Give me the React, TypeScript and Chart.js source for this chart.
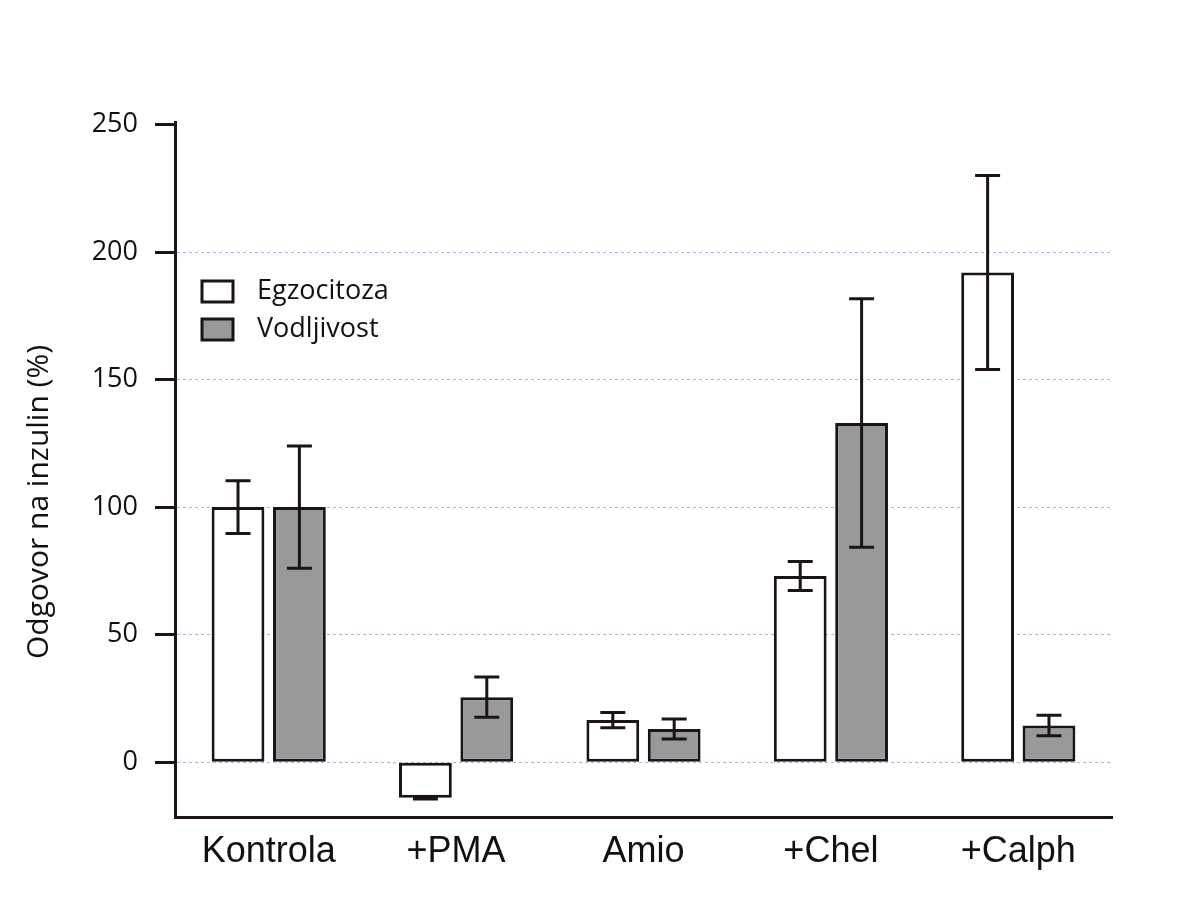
import React, { useEffect, useRef } from "react";
import { Chart, registerables } from "chart.js";

Chart.register(...registerables);

const categories = ["Kontrola", "+PMA", "Amio", "+Chel", "+Calph"];
const seriesLabels = ["Egzocitoza", "Vodljivost"];
const egzocitoza = [100, -14, 16.5, 73, 192];
const egzocitozaErr = [10.3, 0.4, 3, 5.7, 38];
const vodljivost = [100, 25.5, 13, 133, 14.4];
const vodljivostErr = [24, 7.9, 3.9, 48.7, 4];
const yTicks = [0, 50, 100, 150, 200, 250];
const yTitle = "Odgovor na inzulin (%)";

const INK = "#1c1414";
const GRAY = "#999999";
const GRID = "rgba(150,150,225,0.75)";

const errorBarsPlugin = {
  id: "errorBars",
  afterDatasetsDraw(chart: any) {
    const { ctx } = chart;
    const y = chart.scales.y;
    chart.data.datasets.forEach((ds: any, i: number) => {
      const meta = chart.getDatasetMeta(i);
      meta.data.forEach((bar: any, j: number) => {
        const v = ds.data[j];
        const e = ds.errors[j];
        const yHi = y.getPixelForValue(v + e);
        const yLo = y.getPixelForValue(v - e);
        const half = 12.5;
        ctx.save();
        ctx.strokeStyle = INK;
        ctx.lineWidth = 3;
        ctx.beginPath();
        ctx.moveTo(bar.x, yHi);
        ctx.lineTo(bar.x, yLo);
        ctx.moveTo(bar.x - half, yHi);
        ctx.lineTo(bar.x + half, yHi);
        ctx.moveTo(bar.x - half, yLo);
        ctx.lineTo(bar.x + half, yLo);
        ctx.stroke();
        ctx.restore();
      });
    });
  },
};

const legendPlugin = {
  id: "innerLegend",
  afterDraw(chart: any) {
    const { ctx } = chart;
    chart.data.datasets.forEach((ds: any, i: number) => {
      const bx = 202;
      const by = 281 + i * 38;
      ctx.save();
      ctx.fillStyle = ds.backgroundColor;
      ctx.strokeStyle = INK;
      ctx.lineWidth = 3;
      ctx.fillRect(bx, by, 31, 21);
      ctx.strokeRect(bx, by, 31, 21);
      ctx.fillStyle = "#111";
      ctx.font = "27px 'Open Sans'";
      ctx.textBaseline = "middle";
      ctx.textAlign = "left";
      ctx.fillText(ds.label, 257, by + 10);
      ctx.restore();
    });
  },
};

const yTitlePlugin = {
  id: "yTitleCustom",
  afterDraw(chart: any) {
    const { ctx } = chart;
    ctx.save();
    ctx.translate(39, 502);
    ctx.rotate(-Math.PI / 2);
    ctx.fillStyle = "#111";
    ctx.font = "30px 'Open Sans'";
    ctx.textAlign = "center";
    ctx.textBaseline = "middle";
    ctx.fillText(yTitle, 0, 0);
    ctx.restore();
  },
};

export default function App() {
  const ref = useRef<HTMLCanvasElement | null>(null);
  useEffect(() => {
    if (!ref.current) return;
    const chart = new Chart(ref.current, {
      type: "bar",
      data: {
        labels: categories,
        datasets: [
          {
            label: seriesLabels[0],
            data: egzocitoza,
            errors: egzocitozaErr,
            backgroundColor: "#ffffff",
            borderColor: INK,
            borderWidth: 3,
            borderSkipped: false,
          } as any,
          {
            label: seriesLabels[1],
            data: vodljivost,
            errors: vodljivostErr,
            backgroundColor: GRAY,
            borderColor: INK,
            borderWidth: 3,
            borderSkipped: false,
          } as any,
        ],
      },
      options: {
        responsive: false,
        animation: false,
        devicePixelRatio: 1,
        layout: { padding: { top: 122, right: 72, left: 0, bottom: 0 } },
        datasets: {
          bar: { categoryPercentage: 0.655, barPercentage: 0.86 },
        },
        plugins: {
          legend: { display: false },
          tooltip: { enabled: false },
          title: { display: false },
        },
        scales: {
          x: {
            grid: { display: false },
            border: { display: true, color: INK, width: 3 },
            ticks: {
              color: "#111",
              font: { family: "'Liberation Sans', Arial", size: 36 },
              padding: 5,
            },
            afterFit(scale: any) {
              scale.height = 92;
            },
          },
          y: {
            min: -21.5,
            max: 251,
            afterBuildTicks(scale: any) {
              scale.ticks = yTicks.map((v) => ({ value: v }));
            },
            grid: {
              color: (c: any) => (c.tick && c.tick.value === 250 ? "rgba(0,0,0,0)" : GRID),
              lineWidth: 1,
              drawTicks: true,
              tickLength: 20,
              tickColor: INK,
              tickWidth: 3,
              tickBorderDash: [],
            },
            border: { display: true, color: INK, width: 3, dash: [3, 3] },
            ticks: {
              color: "#111",
              font: { family: "'Open Sans'", size: 27 },
              padding: 17,
            },
            afterFit(scale: any) {
              scale.width = 175;
            },
          },
        },
      },
      plugins: [errorBarsPlugin, legendPlugin, yTitlePlugin],
    } as any);
    return () => chart.destroy();
  }, []);
  return (
    <div style={{ position: "fixed", left: 0, top: 0, width: 1184, height: 909, background: "#fff" }}>
      <canvas ref={ref} width={1184} height={909} style={{ width: 1184, height: 909 }} />
    </div>
  );
}
